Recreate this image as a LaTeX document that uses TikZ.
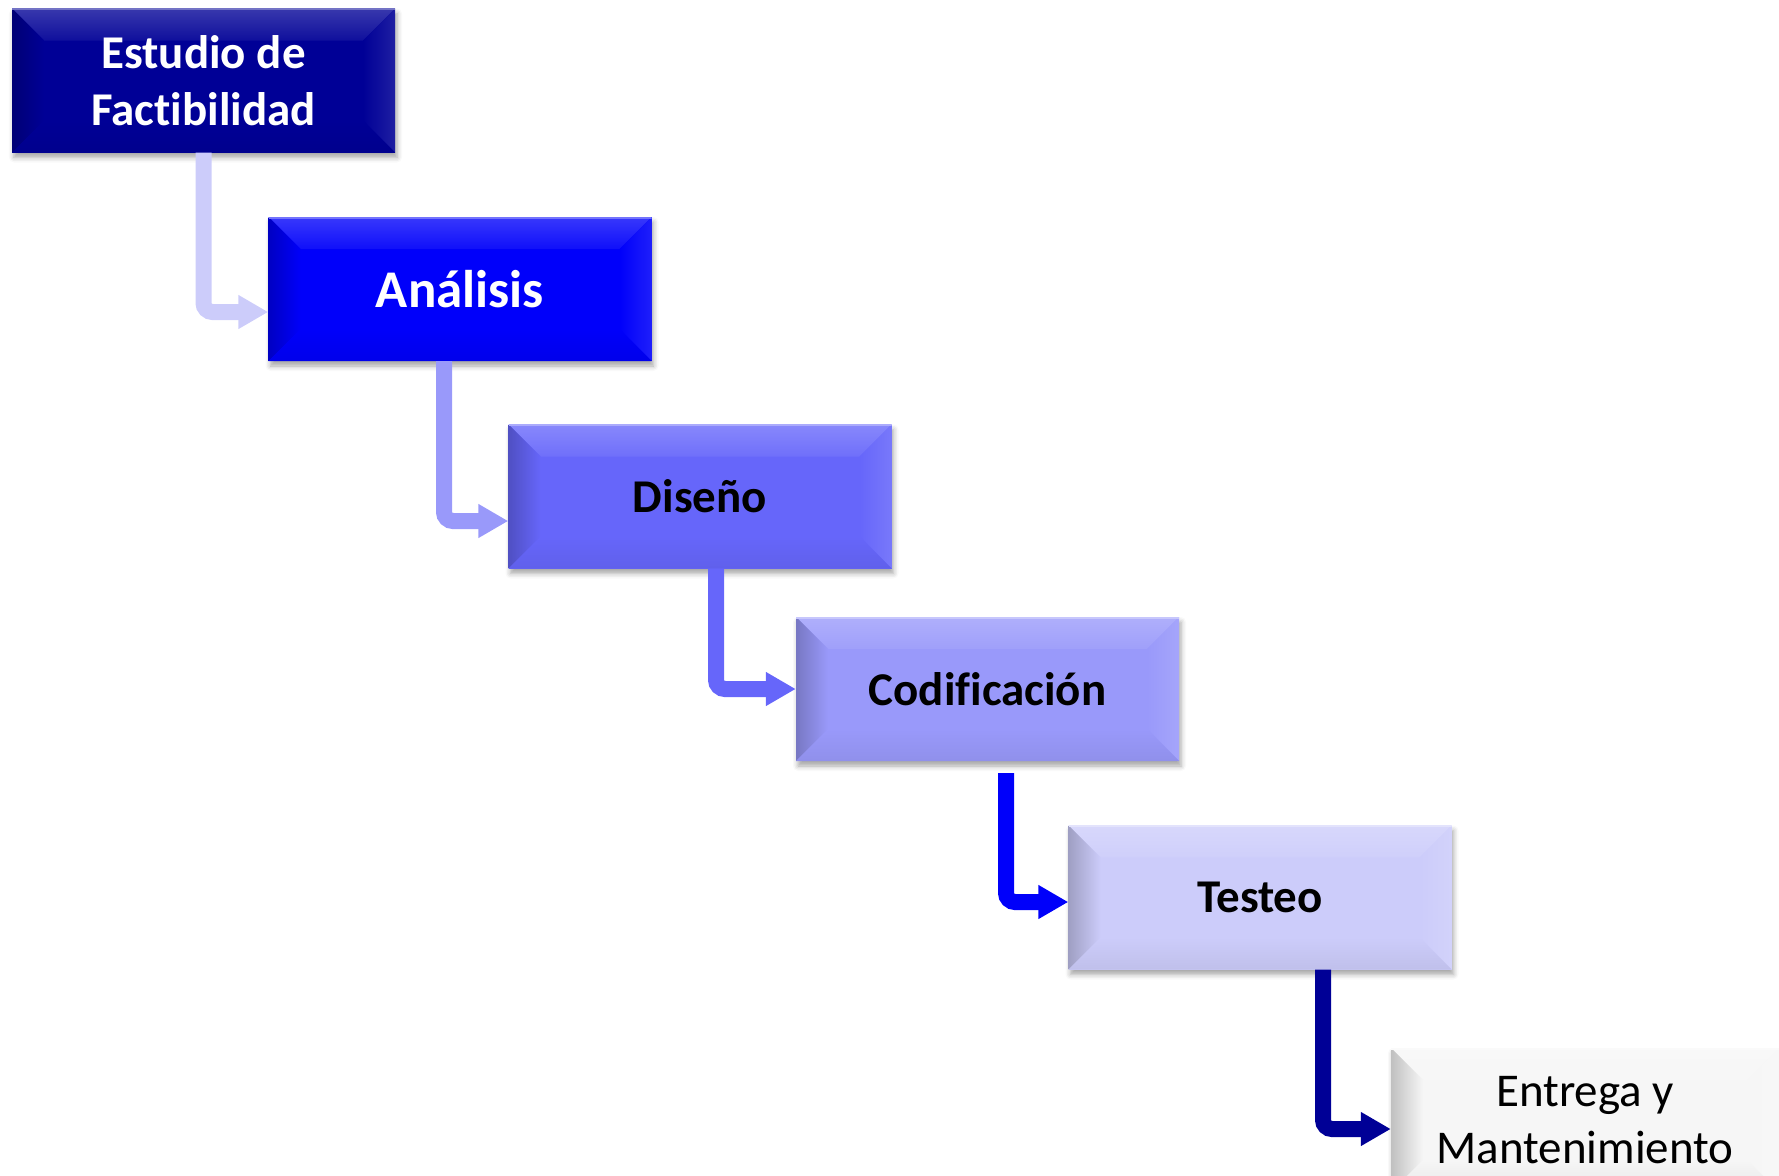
\documentclass[tikz,border=0pt]{standalone}
\usepackage{fontspec}
\setmainfont[RawFeature=-liga]{Carlito}
\usetikzlibrary{arrows.meta,shadows.blur}
\definecolor{cA}{RGB}{0,0,150}
\definecolor{cB}{RGB}{0,0,250}
\definecolor{cC}{RGB}{102,102,250}
\definecolor{cD}{RGB}{153,153,250}
\definecolor{cE}{RGB}{204,204,250}
\definecolor{cF}{RGB}{246,246,246}
\newcommand\bevelpp[1]{%
  \coordinate (NW) at (path picture bounding box.north west);
  \coordinate (NE) at (path picture bounding box.north east);
  \coordinate (SW) at (path picture bounding box.south west);
  \coordinate (SE) at (path picture bounding box.south east);
  \shade[top color=#1!78!white, bottom color=#1!94!white] (NW) -- (NE) -- ([shift={(-32,-32)}]NE) -- ([shift={(32,-32)}]NW) -- cycle;
  \shade[left color=#1!78!black, right color=#1] (NW) -- ([shift={(32,-32)}]NW) -- ([shift={(32,32)}]SW) -- (SW) -- cycle;
  \shade[right color=#1!88!white, left color=#1] (NE) -- ([shift={(-32,-32)}]NE) -- ([shift={(-32,32)}]SE) -- (SE) -- cycle;
  \shade[bottom color=#1!94!black, top color=#1] (SW) -- ([shift={(32,32)}]SW) -- ([shift={(-32,32)}]SE) -- (SE) -- cycle;
  \draw[#1!55!white, line width=3pt] (NW) -- (NE);
}
\begin{document}
\begin{tikzpicture}[x=1pt,y=1pt,
  box/.style={rectangle, minimum width=383pt, minimum height=144pt, inner sep=0pt, align=center,
    fill=#1, path picture={\bevelpp{#1}},
    blur shadow={shadow xshift=2pt, shadow yshift=-5pt, shadow blur radius=5pt, shadow opacity=35}},
  conn/.style={line width=16pt, rounded corners=9pt, -{Triangle[width=32pt,length=30pt]}},
  bt/.style={font=\fontsize{47}{57}\selectfont\bfseries},
  big/.style={font=\fontsize{53}{60}\selectfont\bfseries},
  rt/.style={font=\fontsize{47}{57}\selectfont}
]
\useasboundingbox (0,0) rectangle (1779,-1175);
\clip (0,0) rectangle (1779,-1175);

\node[box=cA, text=white, bt] (b1) at (203.5,-80.5) {Estudio de\\Factibilidad};
\node[box=cB, text=white, big] (b2) at (460,-289) {Análisis};
\node[box=cC, text=black, bt] (b3) at (700,-496.5) {Diseño};
\node[box=cD, text=black, bt] (b4) at (987.5,-689) {Codificación};
\node[box=cE, text=black, bt] (b5) at (1260,-897.5) {Testeo};
\node[box=cF, minimum width=388pt, text=black, rt] (b6) at (1585,-1120) {Entrega y\\Mantenimiento};

\draw[conn, draw=cE] (b1.south) |- ([yshift=-23]b2.west);
\draw[conn, draw=cD] ([xshift=-16]b2.south) |- ([yshift=-24.5]b3.west);
\draw[conn, draw=cC] ([xshift=16]b3.south) |- (b4.west);
\draw[conn, draw=cB] ([xshift=18.5,yshift=-12]b4.south) |- ([yshift=-4.5]b5.west);
\draw[conn, draw=cA] ([xshift=63]b5.south) |- ([yshift=-9]b6.west);
\end{tikzpicture}
\end{document}
